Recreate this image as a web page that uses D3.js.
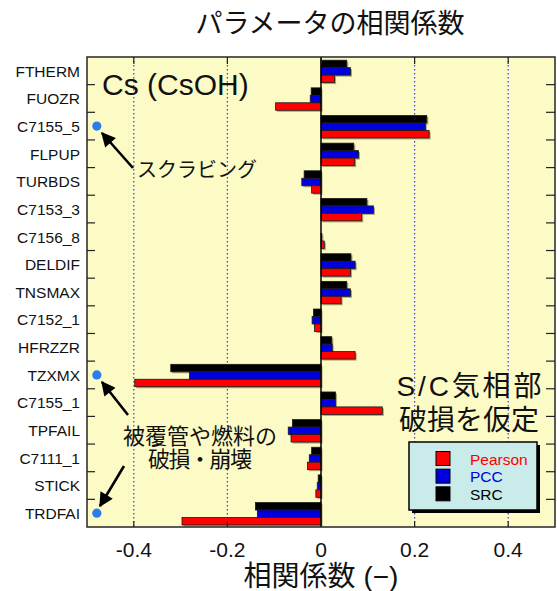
<!DOCTYPE html>
<html lang="ja">
<head>
<meta charset="UTF-8">
<title>パラメータの相関係数</title>
<script src="https://cdnjs.cloudflare.com/ajax/libs/d3/7.8.5/d3.min.js"></script>
<style>
  body { margin: 0; background: #fff; }
  svg { display: block; font-family: "Liberation Sans", Arial, "Noto Sans CJK JP", sans-serif; }
</style>
</head>
<body>
<div id="chart"></div>
<script>
// parameters, top to bottom
const params = ["FTHERM", "FUOZR", "C7155_5", "FLPUP", "TURBDS", "C7153_3", "C7156_8", "DELDIF",
  "TNSMAX", "C7152_1", "HFRZZR", "TZXMX", "C7155_1", "TPFAIL", "C7111_1", "STICK", "TRDFAI"];

// correlation coefficients
const pearson = [0.029, -0.097, 0.231, 0.072, -0.020, 0.087, 0.007, 0.063,
  0.043, -0.014, 0.073, -0.398, 0.131, -0.064, -0.029, -0.011, -0.297];
const pcc = [0.063, -0.023, 0.223, 0.080, -0.041, 0.112, 0.002, 0.073,
  0.063, -0.019, 0.024, -0.281, 0.031, -0.070, -0.025, -0.008, -0.136];
const src = [0.055, -0.021, 0.226, 0.070, -0.036, 0.098, 0.000, 0.064,
  0.055, -0.016, 0.023, -0.321, 0.031, -0.061, -0.020, -0.006, -0.140];

const seriesNames = ["SRC", "PCC", "Pearson"];   // drawing order inside each band (top -> bottom)
const legendNames = ["Pearson", "PCC", "SRC"];
const xTicks = [-0.4, -0.2, 0, 0.2, 0.4];
const xTickLabels = ["-0.4", "-0.2", "0", "0.2", "0.4"];
const gridVals = [-0.4, -0.2, 0.2, 0.4];
const marked = ["C7155_5", "TZXMX", "TRDFAI"];

const colors = { Pearson: "#ff0000", PCC: "#0000dd", SRC: "#000000" };
const values = { Pearson: pearson, PCC: pcc, SRC: src };

const W = 557, H = 591;
const pL = 87, pR = 555, pT = 57, pB = 527;

const svg = d3.select("#chart").append("svg").attr("width", W).attr("height", H);

const x = d3.scaleLinear().domain([-0.5, 0.5]).range([pL, pR]);
const y = d3.scaleBand().domain(params).range([pT, pB]);
const ys = d3.scaleBand().domain(seriesNames).range([3.2, 25.6]);

// defs: arrowhead
svg.append("defs").append("marker")
  .attr("id", "arr")
  .attr("viewBox", "0 0 10 10")
  .attr("refX", 9).attr("refY", 5)
  .attr("markerWidth", 6).attr("markerHeight", 5.5)
  .attr("orient", "auto")
  .append("path").attr("d", "M0,0 L10,5 L0,10 z").attr("fill", "#000");

// title
svg.append("text")
  .attr("x", 330).attr("y", 33)
  .attr("text-anchor", "middle")
  .attr("font-size", 27)
  .attr("fill", "#111")
  .text("パラメータの相関係数");

// plot background
svg.append("rect")
  .attr("x", pL).attr("y", pT)
  .attr("width", pR - pL).attr("height", pB - pT)
  .attr("fill", "#fcfbc6");

// dotted grid
svg.selectAll(".grid").data(gridVals).join("line")
  .attr("class", "grid")
  .attr("x1", d => x(d)).attr("x2", d => x(d))
  .attr("y1", pT).attr("y2", pB)
  .attr("stroke", "#3a3aff").attr("stroke-width", 1.2)
  .attr("stroke-dasharray", "1.5,2.5");

// bars
const rows = [];
params.forEach((p, i) => {
  seriesNames.forEach(s => rows.push({ p, s, v: values[s][i] }));
});

const barG = svg.append("g");
// shadows
barG.selectAll(".shadow").data(rows).join("rect")
  .attr("class", "shadow")
  .attr("x", d => Math.min(x(0), x(d.v)) + 1.5)
  .attr("y", d => y(d.p) + ys(d.s) + 1.5)
  .attr("width", d => Math.abs(x(d.v) - x(0)))
  .attr("height", ys.bandwidth())
  .attr("fill", "#6b5a2a").attr("opacity", 0.55);
barG.selectAll(".bar").data(rows).join("rect")
  .attr("class", "bar")
  .attr("x", d => Math.min(x(0), x(d.v)))
  .attr("y", d => y(d.p) + ys(d.s))
  .attr("width", d => Math.abs(x(d.v) - x(0)))
  .attr("height", ys.bandwidth())
  .attr("fill", d => colors[d.s])
  .attr("stroke", "#1a1a1a").attr("stroke-width", 0.8);

// zero line
svg.append("line")
  .attr("x1", x(0)).attr("x2", x(0))
  .attr("y1", pT).attr("y2", pB)
  .attr("stroke", "#000").attr("stroke-width", 1.5);

// frame
svg.append("rect")
  .attr("x", pL).attr("y", pT)
  .attr("width", pR - pL).attr("height", pB - pT)
  .attr("fill", "none").attr("stroke", "#333").attr("stroke-width", 1.6);

// band boundary ticks on left and right (inward)
const bounds = params.slice(1).map(p => y(p));
svg.selectAll(".ltick").data(bounds).join("line")
  .attr("x1", pL).attr("x2", pL + 8)
  .attr("y1", d => d).attr("y2", d => d)
  .attr("stroke", "#222").attr("stroke-width", 1.2);
svg.selectAll(".rtick").data(bounds).join("line")
  .attr("x1", pR - 9).attr("x2", pR)
  .attr("y1", d => d).attr("y2", d => d)
  .attr("stroke", "#222").attr("stroke-width", 1.2);

// x ticks (top and bottom, inward)
svg.selectAll(".btick").data(xTicks).join("line")
  .attr("x1", d => x(d)).attr("x2", d => x(d))
  .attr("y1", pB).attr("y2", pB - 6)
  .attr("stroke", "#222").attr("stroke-width", 1.2);
svg.selectAll(".ttick").data(xTicks).join("line")
  .attr("x1", d => x(d)).attr("x2", d => x(d))
  .attr("y1", pT).attr("y2", pT + 7)
  .attr("stroke", "#222").attr("stroke-width", 1.2);

// tick labels
svg.selectAll(".xlab").data(xTicks).join("text")
  .attr("x", d => x(d)).attr("y", 557)
  .attr("text-anchor", "middle")
  .attr("font-size", 21).attr("fill", "#111")
  .text((d, i) => xTickLabels[i]);

// category labels
svg.selectAll(".ylab").data(params).join("text")
  .attr("x", 80)
  .attr("y", d => y(d) + y.bandwidth() / 2 + 5.8)
  .attr("text-anchor", "end")
  .attr("font-size", 15.5).attr("fill", "#111")
  .text(d => d);

// axis title
svg.append("text")
  .attr("x", 321).attr("y", 586)
  .attr("text-anchor", "middle")
  .attr("font-size", 28).attr("fill", "#111")
  .text("相関係数 (−)");

// species label
svg.append("text")
  .attr("x", 102).attr("y", 95)
  .attr("font-size", 30).attr("fill", "#111")
  .text("Cs (CsOH)");

// marker dots
const dotX = x(-0.479);
svg.selectAll(".dot").data(marked).join("circle")
  .attr("cx", dotX)
  .attr("cy", d => y(d) + y.bandwidth() / 2)
  .attr("r", 4.6)
  .attr("fill", "#2b7de9");

// arrows
const arrows = [
  { x1: 133, y1: 168, x2: 102, y2: 133 },
  { x1: 128, y1: 415, x2: 102, y2: 382 },
  { x1: 124, y1: 466, x2: 100, y2: 506 }
];
svg.selectAll(".arrow").data(arrows).join("line")
  .attr("x1", d => d.x1).attr("y1", d => d.y1)
  .attr("x2", d => d.x2).attr("y2", d => d.y2)
  .attr("stroke", "#000").attr("stroke-width", 2.6)
  .attr("marker-end", "url(#arr)");

// annotations
svg.append("text")
  .attr("x", 137).attr("y", 177)
  .attr("font-size", 20).attr("fill", "#111")
  .text("スクラビング");

const ann2 = svg.append("text")
  .attr("text-anchor", "middle")
  .attr("font-size", 22).attr("fill", "#111");
ann2.append("tspan").attr("x", 200).attr("y", 444).text("被覆管や燃料の");
ann2.append("tspan").attr("x", 200).attr("y", 467).attr("textLength", 104).text("破損・崩壊");

const ann3 = svg.append("text")
  .attr("text-anchor", "middle")
  .attr("font-size", 28).attr("fill", "#111");
ann3.append("tspan").attr("x", 469).attr("y", 396).attr("textLength", 145).text("S/C気相部");
ann3.append("tspan").attr("x", 469).attr("y", 430).text("破損を仮定");

// legend
const lg = svg.append("g");
lg.append("rect")
  .attr("x", 412).attr("y", 445).attr("width", 128).attr("height", 68)
  .attr("fill", "#000");
lg.append("rect")
  .attr("x", 409).attr("y", 442).attr("width", 128).attr("height", 68)
  .attr("fill", "#c9ecea").attr("stroke", "#000").attr("stroke-width", 1.5);
const ly = d3.scaleBand().domain(legendNames).range([451, 504]);
lg.selectAll(".sw").data(legendNames).join("rect")
  .attr("x", 436).attr("y", d => ly(d) + 0.5)
  .attr("width", 14).attr("height", 14)
  .attr("fill", d => colors[d]).attr("stroke", "#000").attr("stroke-width", 1);
lg.selectAll(".lt").data(legendNames).join("text")
  .attr("x", 470).attr("y", d => ly(d) + 13.5)
  .attr("font-size", 15.5).attr("fill", d => colors[d])
  .text(d => d);
</script>
</body>
</html>
